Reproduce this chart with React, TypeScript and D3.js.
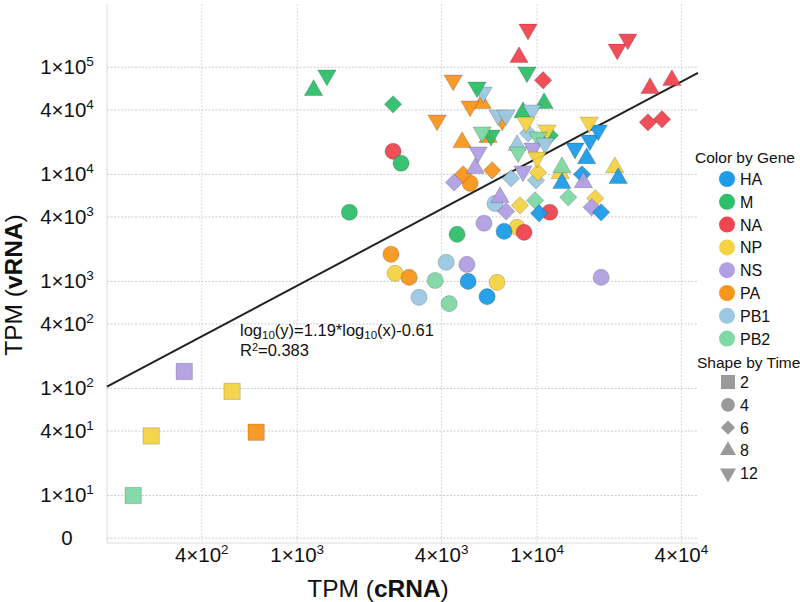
import React, { useEffect, useRef } from 'react';
import * as d3 from 'd3';

const genes = ["HA", "M", "NA", "NP", "NS", "PA", "PB1", "PB2"];
const geneColors = ["#1e9be9", "#2dbf6a", "#ef4650", "#f6d345", "#b19fe2", "#f8961b", "#9bc8e0", "#80d8a5"];
const times = [2, 4, 6, 8, 12];

// [gene, TPM cRNA, TPM vRNA]
type Pt = [string, number, number];

const time2: Pt[] = [
  ["PB2", 207, 10], ["NP", 246, 36], ["NS", 338, 144], ["NP", 535, 94], ["PA", 674, 39],
];

const time4: Pt[] = [
  ["M", 1650, 4420], ["NA", 2510, 16400], ["M", 2710, 12700], ["PA", 2460, 1790],
  ["NP", 2560, 1190], ["PA", 2930, 1090], ["PB1", 3220, 710], ["PB2", 3760, 1020],
  ["PB1", 4180, 1510], ["PB2", 4300, 620], ["NS", 5100, 1440], ["HA", 5160, 1000],
  ["HA", 6190, 720], ["NP", 6810, 980], ["M", 4640, 2750], ["NS", 6010, 3490],
  ["NP", 8260, 3200], ["HA", 7290, 2930], ["NA", 8830, 2870], ["PB1", 6680, 5350],
  ["PA", 5260, 8240], ["NS", 18500, 1090], ["NA", 11300, 4420],
];

const time6: Pt[] = [
  ["M", 2510, 45100], ["NS", 4510, 8410], ["PA", 4920, 10000], ["PA", 6500, 10900],
  ["NS", 7430, 4510], ["NP", 8490, 5130], ["PB1", 7790, 9190], ["PB2", 9810, 5710],
  ["PB1", 9900, 8790], ["HA", 10200, 4330], ["PB2", 13500, 6100], ["NP", 17500, 5970],
  ["NS", 16900, 4920], ["HA", 18500, 4420], ["HA", 15400, 10000], ["NP", 10100, 10400],
  ["NA", 10600, 75600], ["NA", 29000, 30600], ["NA", 33200, 32700], ["M", 11300, 23100],
  ["PB1", 9180, 24200],
];

const time8: Pt[] = [
  ["M", 1170, 61000], ["M", 10700, 46100], ["M", 8740, 37900], ["NA", 8410, 124000],
  ["NA", 29600, 63700], ["NA", 36500, 75600], ["PA", 5900, 46100], ["PA", 4870, 19900],
  ["PA", 6250, 22200], ["NS", 5520, 11400], ["NS", 7010, 6100], ["PB1", 8260, 18700],
  ["NP", 12500, 10200], ["PB2", 12700, 11600], ["HA", 12700, 8240], ["HA", 16100, 14100],
  ["NS", 15600, 8410], ["NP", 21100, 11600], ["HA", 21800, 9190],
];

const time12: Pt[] = [
  ["M", 1330, 84200], ["NA", 9170, 226000], ["NA", 21600, 147000], ["NA", 23900, 183000],
  ["M", 9080, 89800], ["PA", 4470, 75600], ["PB1", 5960, 58400], ["M", 5620, 65000],
  ["PA", 5260, 43300], ["PA", 3830, 32000], ["PA", 7150, 32000], ["PB1", 6880, 35600],
  ["PB1", 7430, 35600], ["PB1", 9530, 39700], ["NP", 9000, 30600], ["NP", 11000, 25800],
  ["M", 6430, 23100], ["PB2", 5900, 24700], ["PB2", 10100, 22200], ["PB2", 8340, 16100],
  ["NS", 5680, 16100], ["NS", 9620, 17500], ["PB1", 10800, 19500], ["NP", 10000, 14400],
  ["NS", 8740, 10700], ["HA", 14400, 17500], ["HA", 16600, 20800], ["HA", 18000, 25800],
  ["NP", 16500, 30600],
];

const pointsByTime = [time2, time4, time6, time8, time12];

// tick values; the lowest y tick is drawn with the label "0"
const xTicks = [400, 1000, 4000, 10000, 40000];
const yTicks = [4, 10, 40, 100, 400, 1000, 4000, 10000, 40000, 100000];

const slope = 1.19;
const intercept = -0.61;
const rSquared = 0.383;

const FONT = "'Liberation Sans', Arial, Helvetica, sans-serif";

const App = () => {
  const svgRef = useRef<SVGSVGElement>(null);

  useEffect(() => {
    const width = 800;
    const height = 602;
    const svg = d3.select(svgRef.current);
    svg.selectAll("*").remove();
    svg.attr("width", width).attr("height", height).style("font-family", FONT);

    const x = d3.scaleLog().domain([161, 46900]).range([107, 698]);
    const y = d3.scaleLog().domain([3.6, 390000]).range([543, 4]);

    const grid = svg.append("g");
    // plot frame (left + bottom)
    grid.append("line").attr("x1", 107).attr("x2", 107).attr("y1", 4).attr("y2", 543)
      .attr("stroke", "#dcdcdc");
    grid.append("line").attr("x1", 107).attr("x2", 698).attr("y1", 543).attr("y2", 543)
      .attr("stroke", "#dcdcdc");

    grid.selectAll(".vg").data(xTicks).enter().append("line")
      .attr("x1", d => x(d)).attr("x2", d => x(d))
      .attr("y1", 4).attr("y2", 543)
      .attr("stroke", "#d8d8d8").attr("stroke-dasharray", "2,1.5");

    grid.selectAll(".hg").data(yTicks).enter().append("line")
      .attr("x1", 107).attr("x2", 698)
      .attr("y1", d => y(d)).attr("y2", d => y(d))
      .attr("stroke", "#cccccc").attr("stroke-dasharray", "2,1.5");

    const tickLabel = (sel: any, d: number, isZero = false) => {
      if (isZero) { sel.text("0"); return; }
      const e = Math.floor(Math.log10(d) + 1e-9);
      const m = Math.round(d / Math.pow(10, e));
      sel.append("tspan").text(`${m}×10`);
      sel.append("tspan").attr("dy", -8).attr("font-size", 13.5).text(`${e}`);
    };

    // y tick labels
    yTicks.forEach((d, i) => {
      const t = svg.append("text")
        .attr("x", 67).attr("y", y(d) + 7)
        .attr("text-anchor", "middle")
        .attr("font-size", 20.5).attr("fill", "#111");
      tickLabel(t, d, i === 0);
    });

    // x tick labels
    xTicks.forEach(d => {
      const t = svg.append("text")
        .attr("x", x(d)).attr("y", 562)
        .attr("text-anchor", "middle")
        .attr("font-size", 20.5).attr("fill", "#111");
      tickLabel(t, d);
    });

    // axis titles
    const xt = svg.append("text").attr("x", 378).attr("y", 597)
      .attr("text-anchor", "middle").attr("font-size", 24.5).attr("fill", "#111");
    xt.append("tspan").text("TPM (");
    xt.append("tspan").attr("font-weight", "bold").text("cRNA");
    xt.append("tspan").text(")");

    const yt = svg.append("text").attr("transform", "translate(22,285) rotate(-90)")
      .attr("text-anchor", "middle").attr("font-size", 24.5).attr("fill", "#111");
    yt.append("tspan").text("TPM (");
    yt.append("tspan").attr("font-weight", "bold").text("vRNA");
    yt.append("tspan").text(")");

    // regression line
    const [x0, x1] = x.domain();
    const fit = (v: number) => Math.pow(10, slope * Math.log10(v) + intercept);
    svg.append("line")
      .attr("x1", x(x0)).attr("y1", y(fit(x0)))
      .attr("x2", x(x1)).attr("y2", y(fit(x1)))
      .attr("stroke", "#222").attr("stroke-width", 2);

    // equation
    const eq = svg.append("text").attr("x", 240).attr("y", 336)
      .attr("font-size", 16.5).attr("fill", "#111");
    eq.append("tspan").text("log");
    eq.append("tspan").attr("font-size", 11.5).attr("dy", 3).text("10");
    eq.append("tspan").attr("dy", -3).text(`(y)=${slope}*log`);
    eq.append("tspan").attr("font-size", 11.5).attr("dy", 3).text("10");
    eq.append("tspan").attr("dy", -3).text(`(x)${intercept}`);
    const r2 = svg.append("text").attr("x", 240).attr("y", 356)
      .attr("font-size", 16.5).attr("fill", "#111");
    r2.append("tspan").text("R");
    r2.append("tspan").attr("font-size", 11).attr("dy", -5).text("2");
    r2.append("tspan").attr("dy", 5).text(`=${rSquared}`);

    const color = d3.scaleOrdinal<string, string>().domain(genes).range(geneColors);
    const symbolTypes = [d3.symbolSquare, d3.symbolCircle, d3.symbolSquare, d3.symbolTriangle, d3.symbolTriangle];
    const symbolSizes = [266, 205, 150, 145, 145];
    const symbolRot = [0, 0, 45, 0, 180];

    const marks = svg.append("g");
    pointsByTime.forEach((pts, ti) => {
      const path = d3.symbol().type(symbolTypes[ti]).size(symbolSizes[ti])();
      marks.selectAll(`.t${ti}`).data(pts).enter().append("path")
        .attr("d", path)
        .attr("transform", d => `translate(${x(d[1])},${y(d[2])}) rotate(${symbolRot[ti]})`)
        .attr("fill", d => color(d[0]))
        .attr("fill-opacity", 0.95)
        .attr("stroke", "rgba(0,0,0,0.22)")
        .attr("stroke-width", 0.8);
    });

    // legends
    const lg = svg.append("g");
    lg.append("text").attr("x", 695).attr("y", 163).attr("font-size", 15.5).attr("fill", "#111")
      .text("Color by Gene");
    genes.forEach((g, i) => {
      const cy = 179 + i * 22.8;
      lg.append("circle").attr("cx", 727).attr("cy", cy).attr("r", 8).attr("fill", color(g));
      lg.append("text").attr("x", 740).attr("y", cy + 6).attr("font-size", 16).attr("fill", "#111").text(g);
    });

    lg.append("text").attr("x", 697).attr("y", 368).attr("font-size", 15.5).attr("fill", "#111")
      .text("Shape by Time");
    const legSizes = [196, 150, 100, 110, 110];
    times.forEach((t, i) => {
      const cy = 382 + i * 22.8;
      const path = d3.symbol().type(symbolTypes[i]).size(legSizes[i])();
      lg.append("path").attr("d", path)
        .attr("transform", `translate(728,${cy}) rotate(${symbolRot[i]})`)
        .attr("fill", "#9a9a9a");
      lg.append("text").attr("x", 740).attr("y", cy + 6).attr("font-size", 16).attr("fill", "#111").text(t);
    });
  }, []);

  return (
    <div style={{ position: 'absolute', left: 0, top: 0 }}>
      <svg ref={svgRef}></svg>
    </div>
  );
};

export default App;
